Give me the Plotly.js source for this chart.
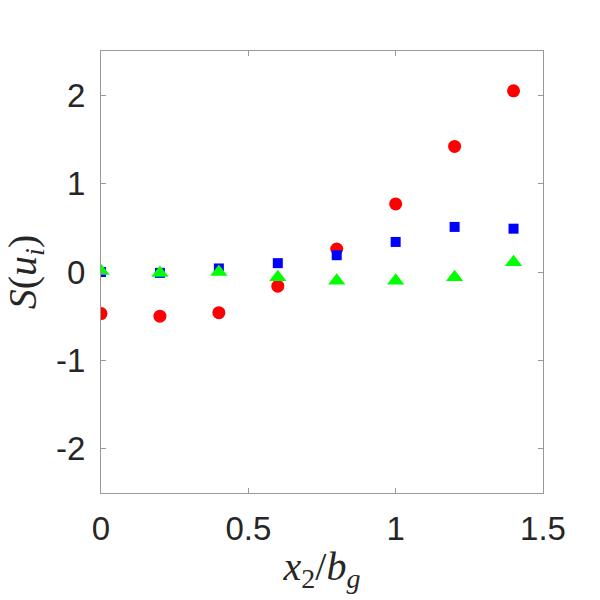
<!DOCTYPE html>
<html><head><meta charset="utf-8">
<script src="https://cdn.plot.ly/plotly-3.0.1.min.js"></script>
<style>html,body{margin:0;padding:0;background:#fff}#chart{width:600px;height:600px}</style>
</head><body><div id="chart"></div>
<script>
const xPos = [0, 0.2, 0.4, 0.6, 0.8, 1.0, 1.2, 1.4];
const sU1 = [-0.47, -0.50, -0.46, -0.16, 0.26, 0.77, 1.42, 2.05];
const sU2 = [0.00, -0.01, 0.04, 0.10, 0.19, 0.34, 0.51, 0.49];
const sU3 = [0.01, -0.01, 0.00, -0.06, -0.10, -0.10, -0.06, 0.11];
const xTickVals = [0, 0.5, 1, 1.5];
const xTickText = ['0', '0.5', '1', '1.5'];
const yTickVals = [-2, -1, 0, 1, 2];
const yTickText = ['-2', '-1', '0', '1', '2'];

const traces = [
  {x: xPos, y: sU1, type: 'scatter', mode: 'markers', marker: {symbol: 'circle', size: 13, color: '#ff0000'}},
  {x: xPos, y: sU2, type: 'scatter', mode: 'markers', marker: {symbol: 'square', size: 10, color: '#0000ff'}},
  {x: xPos, y: sU3, type: 'scatter', mode: 'markers', marker: {symbol: 'triangle-up', size: 15, color: '#00ff00'}}
];
const axisCommon = {
  showgrid: false, zeroline: false, showline: true, linecolor: '#999999', linewidth: 1,
  mirror: 'ticks', ticks: 'inside', ticklen: 5, tickcolor: '#999999',
  tickfont: {family: 'Liberation Sans, Arial, sans-serif', size: 33, color: '#262626'}
};
const layout = {
  width: 600, height: 600,
  margin: {l: 101, r: 57, t: 51, b: 107},
  paper_bgcolor: '#ffffff', plot_bgcolor: '#ffffff',
  showlegend: false,
  xaxis: Object.assign({}, axisCommon, {
    range: [0, 1.5], tickmode: 'array', tickvals: xTickVals, ticktext: xTickText,
    ticklabelstandoff: 6,
    title: {text: '<i>x</i><sub>2</sub>/<i>b</i><sub><i>g</i></sub>', font: {family: 'Liberation Serif, serif', size: 40, color: '#262626'}, standoff: 6}
  }),
  yaxis: Object.assign({}, axisCommon, {
    range: [-2.5, 2.5], tickmode: 'array', tickvals: yTickVals, ticktext: yTickText,
    ticklabelstandoff: 8,
    title: {text: '<i>S</i>(<i>u</i><sub><i>i</i></sub>)', font: {family: 'Liberation Serif, serif', size: 40, color: '#262626'}, standoff: 10}
  })
};
Plotly.newPlot('chart', traces, layout, {displayModeBar: false, staticPlot: true});
</script>
</body></html>
